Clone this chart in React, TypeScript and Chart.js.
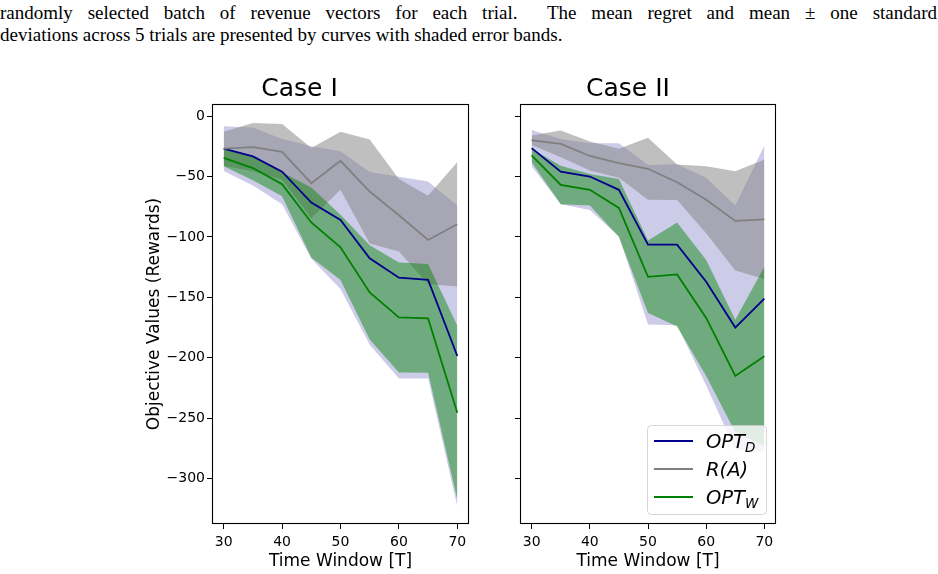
import React, { useEffect, useRef } from 'react';
import { Chart, registerables } from 'chart.js';

Chart.register(...registerables);

// ---------- data ----------
const timeWindows = [30, 35, 40, 45, 50, 55, 60, 65, 70];
const xTicks = [30, 40, 50, 60, 70];
const yTicks = [0, -50, -100, -150, -200, -250, -300];

// Case I
const caseIOptDMean = [-27, -33.4, -46, -71.5, -86, -117.7, -133.7, -135.6, -198.5];
const caseIOptDStd = [18.5, 24, 27, 46.5, 57, 71.5, 83.5, 81.5, 124.5];
const caseIRAMean = [-27, -25.7, -29.6, -55.5, -37, -62.4, -82, -102.5, -89.5];
const caseIRAStd = [14, 20, 23, 29, 24, 43, 30, 36.5, 51.5];
const caseIOptWMean = [-34.5, -43, -56.4, -88, -108.6, -145.9, -166.6, -167.4, -245.5];
const caseIOptWStd = [7, 10, 10, 29, 27, 39, 45.5, 45, 72];

// Case II
const caseIIOptDMean = [-26.5, -46, -50, -61, -106.4, -106.4, -137, -175, -151];
const caseIIOptDStd = [15, 27, 27.6, 38.5, 66, 66.6, 86, 101, 126.7];
const caseIIRAMean = [-20, -23, -33, -39, -43.6, -54.7, -69.3, -86.7, -85.4];
const caseIIRAStd = [4, 11, 12, 12, 25.6, 14.7, 27.7, 41, 49.4];
const caseIIOptWMean = [-32.6, -57, -61, -76, -133, -131, -167, -215, -198.7];
const caseIIOptWStd = [5.5, 16, 13, 24, 30, 43, 48, 46.5, 74];

const legendMain = ['OPT', 'R(A)', 'OPT'];
const legendSub = ['D', '', 'W'];
const lineColors = ['#00008b', '#808080', '#008000'];
const fillColors = ['rgba(0,0,139,0.2)', 'rgba(128,128,128,0.5)', 'rgba(0,128,0,0.45)'];

const FONT = "'DejaVu Sans'";

const framePlugin = {
  id: 'frame',
  afterDraw(chart: any) {
    const { ctx, chartArea: a } = chart;
    ctx.save();
    ctx.strokeStyle = '#000';
    ctx.lineWidth = 1.1;
    ctx.strokeRect(Math.round(a.left) + 0.5, Math.round(a.top) + 0.5, Math.round(a.right - a.left) - 1, Math.round(a.bottom - a.top) - 1);
    ctx.restore();
  },
};

const subLegendPlugin = {
  id: 'subLegend',
  afterDraw(chart: any, _args: any, opts: any) {
    if (!opts || !opts.display) return;
    const { ctx, chartArea: a } = chart;
    const w = 119;
    const h = 89;
    const x0 = Math.round(a.right - 10 - w);
    const y0 = Math.round(a.bottom - 10 - h);
    ctx.save();
    ctx.beginPath();
    ctx.roundRect(x0 + 0.5, y0 + 0.5, w, h, 4);
    ctx.fillStyle = 'rgba(255,255,255,0.8)';
    ctx.fill();
    ctx.strokeStyle = 'rgba(204,204,204,0.8)';
    ctx.lineWidth = 1;
    ctx.stroke();
    legendMain.forEach((main, i) => {
      const cy = y0 + 16 + i * 28;
      ctx.strokeStyle = lineColors[i];
      ctx.lineWidth = 1.8;
      ctx.beginPath();
      ctx.moveTo(x0 + 7, cy);
      ctx.lineTo(x0 + 46, cy);
      ctx.stroke();
      ctx.fillStyle = '#000';
      ctx.textBaseline = 'alphabetic';
      ctx.textAlign = 'left';
      ctx.font = `italic 19.5px ${FONT}`;
      const base = cy + 7;
      ctx.fillText(main, x0 + 59, base);
      if (legendSub[i]) {
        const mw = ctx.measureText(main).width;
        ctx.font = `italic 13.5px ${FONT}`;
        ctx.fillText(legendSub[i], x0 + 59 + mw, base + 3.5);
      }
    });
    ctx.restore();
  },
};

function makeDatasets(means: number[][], stds: number[][]) {
  const ds: any[] = [];
  means.forEach((mean, s) => {
    const std = stds[s];
    ds.push({
      label: 'upper' + s,
      data: timeWindows.map((t, i) => ({ x: t, y: mean[i] + std[i] })),
      borderWidth: 0,
      borderColor: 'rgba(0,0,0,0)',
      pointRadius: 0,
      fill: false,
      order: 10,
    });
    ds.push({
      label: 'lower' + s,
      data: timeWindows.map((t, i) => ({ x: t, y: mean[i] - std[i] })),
      borderWidth: 0,
      borderColor: 'rgba(0,0,0,0)',
      backgroundColor: fillColors[s],
      pointRadius: 0,
      fill: '-1',
      order: 5 - s,
    });
    ds.push({
      label: 'mean' + s,
      data: timeWindows.map((t, i) => ({ x: t, y: mean[i] })),
      borderWidth: 1.8,
      borderColor: lineColors[s],
      pointRadius: 0,
      fill: false,
      order: 2 - s,
    });
  });
  return ds;
}

function makeConfig(title: string, means: number[][], stds: number[][], first: boolean): any {
  return {
    type: 'line',
    data: { datasets: makeDatasets(means, stds) },
    plugins: [framePlugin, subLegendPlugin],
    options: {
      responsive: false,
      animation: false,
      events: [],
      layout: { padding: { left: 0, top: 0, bottom: 0, right: first ? 6 : 14 } },
      plugins: {
        legend: { display: false },
        tooltip: { enabled: false },
        filler: { drawTime: 'beforeDatasetsDraw' },
        title: {
          display: true,
          text: title,
          color: '#000',
          font: { family: FONT, size: 25, weight: 'normal' },
          padding: { top: 14, bottom: 0 },
        },
        subLegend: { display: !first },
      },
      scales: {
        x: {
          type: 'linear',
          min: 28,
          max: 72,
          afterBuildTicks: (s: any) => {
            s.ticks = xTicks.map((v) => ({ value: v }));
          },
          afterFit: (s: any) => {
            s.height = 50;
            s.paddingLeft = 0;
            s.paddingRight = 0;
          },
          grid: { display: true, drawOnChartArea: false, drawTicks: true, tickLength: 5, color: '#000', lineWidth: 1 },
          border: { display: false },
          ticks: { color: '#000', font: { family: FONT, size: 14 }, padding: 5, maxRotation: 0, callback: (v: any) => String(v) },
          title: {
            display: true,
            text: 'Time Window [T]',
            color: '#000',
            font: { family: FONT, size: 17 },
            padding: { top: 0, bottom: 2 },
          },
        },
        y: {
          type: 'linear',
          min: -337.5,
          max: 10,
          afterBuildTicks: (s: any) => {
            s.ticks = yTicks.map((v) => ({ value: v }));
          },
          afterFit: (s: any) => {
            s.width = first ? 82 : 40;
            s.paddingTop = 0;
            s.paddingBottom = 0;
          },
          grid: { display: true, drawOnChartArea: false, drawTicks: true, tickLength: 5, color: '#000', lineWidth: 1 },
          border: { display: false },
          ticks: {
            display: first,
            color: '#000',
            font: { family: FONT, size: 14 },
            padding: 2,
            callback: (v: any) => (v < 0 ? '\u2212' + Math.abs(v) : String(v)),
          },
          title: {
            display: first,
            text: 'Objective Values (Rewards)',
            color: '#000',
            font: { family: FONT, size: 17 },
            padding: { top: 14.5, bottom: 0 },
          },
        },
      },
    },
  };
}

export default function App() {
  const leftRef = useRef<HTMLCanvasElement>(null);
  const rightRef = useRef<HTMLCanvasElement>(null);

  useEffect(() => {
    const c1 = new Chart(
      leftRef.current as HTMLCanvasElement,
      makeConfig('Case I', [caseIOptDMean, caseIRAMean, caseIOptWMean], [caseIOptDStd, caseIRAStd, caseIOptWStd], true)
    );
    const c2 = new Chart(
      rightRef.current as HTMLCanvasElement,
      makeConfig('Case II', [caseIIOptDMean, caseIIRAMean, caseIIOptWMean], [caseIIOptDStd, caseIIRAStd, caseIIOptWStd], false)
    );
    return () => {
      c1.destroy();
      c2.destroy();
    };
  }, []);

  const textStyle: React.CSSProperties = {
    position: 'absolute',
    left: 0,
    width: 937,
    fontFamily: "'Liberation Serif', serif",
    fontSize: 19,
    lineHeight: '22px',
    color: '#000',
    margin: 0,
  };

  return (
    <div style={{ position: 'fixed', left: 0, top: 0, width: 938, height: 574, background: '#fff', overflow: 'hidden' }}>
      <div style={{ ...textStyle, top: 1.5, textAlign: 'justify', textAlignLast: 'justify' }}>
        randomly selected batch of revenue vectors for each trial.&nbsp; The mean regret and mean ± one standard
      </div>
      <div style={{ ...textStyle, top: 23.5 }}>
        deviations across 5 trials are presented by curves with shaded error bands.
      </div>
      <canvas ref={leftRef} width={345} height={514} style={{ position: 'absolute', left: 130, top: 60, width: 345, height: 514 }} />
      <canvas ref={rightRef} width={310} height={514} style={{ position: 'absolute', left: 480, top: 60, width: 310, height: 514 }} />
    </div>
  );
}
